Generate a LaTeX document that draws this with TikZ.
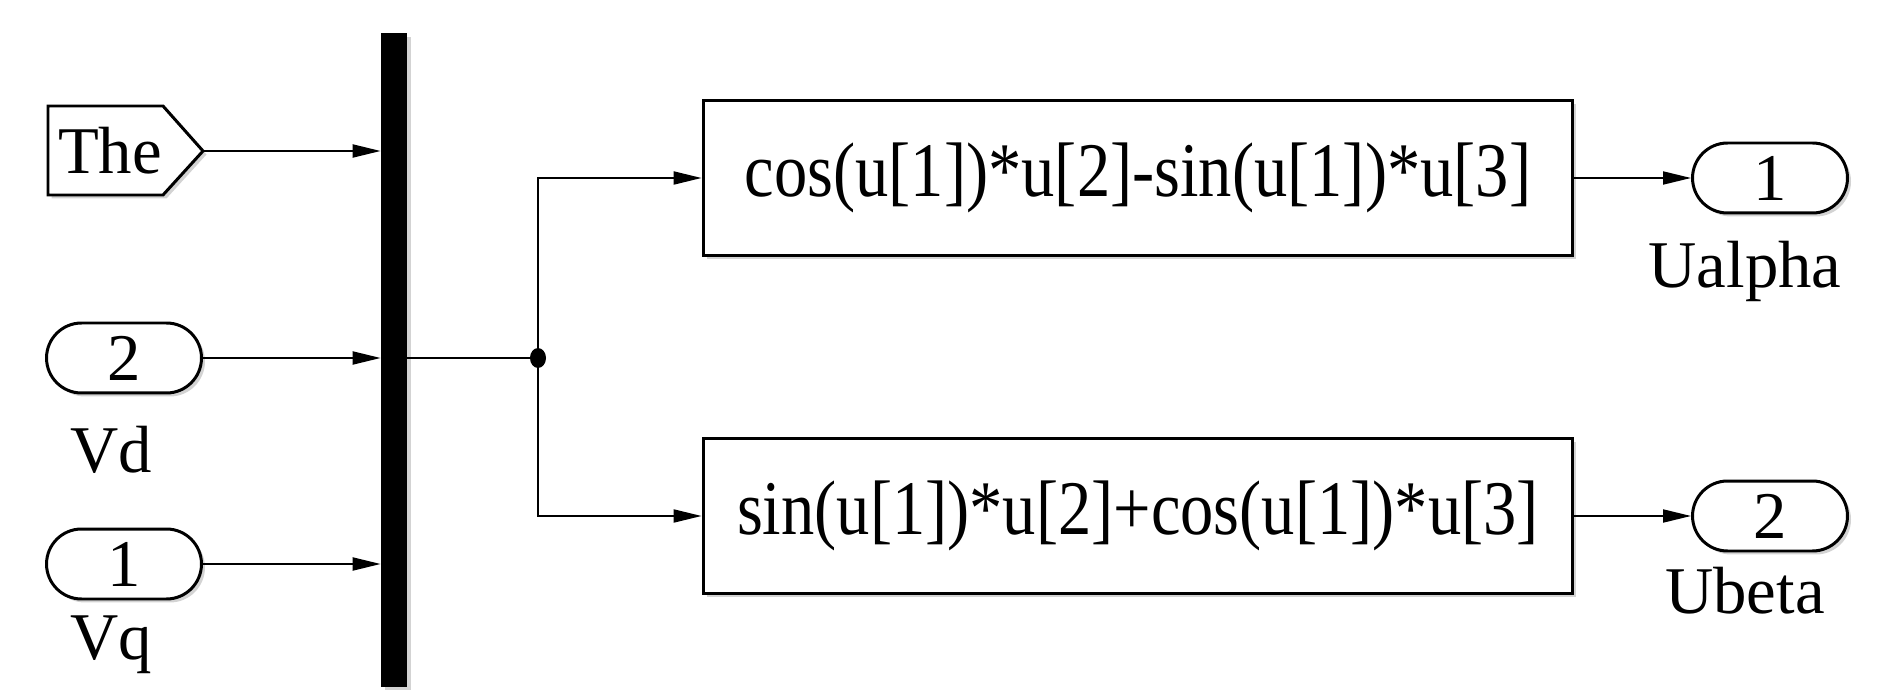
\documentclass[tikz,border=0pt]{standalone}
\usepackage{fontspec}
\setmainfont{Liberation Serif}
\newfontfamily\formfont{Liberation Serif}[FakeStretch=0.86]
\usetikzlibrary{arrows.meta,shapes.misc,shadows}
\begin{document}
\begin{tikzpicture}[x=0.02cm,y=-0.02cm,
  conn/.style={line width=1.1pt,-{Triangle[length=0.56cm,width=0.26cm]}},
  wire/.style={line width=1.1pt},
  shad/.style={drop shadow={shadow xshift=0.07cm,shadow yshift=-0.07cm,opacity=0.35,fill=black!50}},
  fcnbox/.style={draw,line width=1.7pt,fill=white,minimum width=17.4cm,minimum height=3.12cm,inner sep=0pt,font=\formfont\fontsize{44}{52}\selectfont,shad},
  port/.style={rounded rectangle,draw,line width=1.7pt,fill=white,minimum width=3.1cm,minimum height=1.4cm,inner sep=0pt,font=\fontsize{38}{44}\selectfont,shad},
  lbl/.style={font=\fontsize{38}{44}\selectfont,inner sep=0pt}]
\useasboundingbox (0,0) rectangle (1890,692);

% bus
\node[fill=black,minimum width=0.52cm,minimum height=13.08cm,inner sep=0pt,shad] (bus) at (394,360) {};

% Goto/From tag "The"
\coordinate (thetip) at (203,151);
\draw[line width=1.7pt,fill=white,shad] (48,106) -- (163,106) -- (thetip) -- (163,195) -- (48,195) -- cycle;
\node[font=\fontsize{38}{44}\selectfont,inner sep=0pt] (the) at (110,151) {The};

% inports
\node[port] (p2) at (124,358) {2};
\node[lbl] (vd) at (111,450) {Vd};
\node[port] (p1) at (124,564) {1};
\node[lbl] (vq) at (111,645) {Vq};

% function blocks
\node[fcnbox] (f1) at (1138,178) {cos(u[1])*u[2]-sin(u[1])*u[3]};
\node[fcnbox] (f2) at (1138,516) {sin(u[1])*u[2]+cos(u[1])*u[3]};

% outports
\node[port] (o1) at (1770,178) {1};
\node[lbl] (ua) at (1745,271) {Ualpha};
\node[port] (o2) at (1770,516) {2};
\node[lbl] (ub) at (1745,591) {Ubeta};

% junction
\coordinate (j) at (538,358);

% connectors
\draw[conn] (thetip) -- (thetip -| bus.west);
\draw[conn] (p2.east) -- (p2.east -| bus.west);
\draw[conn] (p1.east) -- (p1.east -| bus.west);
\draw[wire] (bus.east |- j) -- (j);
\draw[conn] (j) |- (f1.west);
\draw[conn] (j) |- (f2.west);
\draw[conn] (f1.east) -- (o1.west);
\draw[conn] (f2.east) -- (o2.west);
\fill (j) ellipse [x radius=0.16cm,y radius=0.2cm];
\end{tikzpicture}
\end{document}
